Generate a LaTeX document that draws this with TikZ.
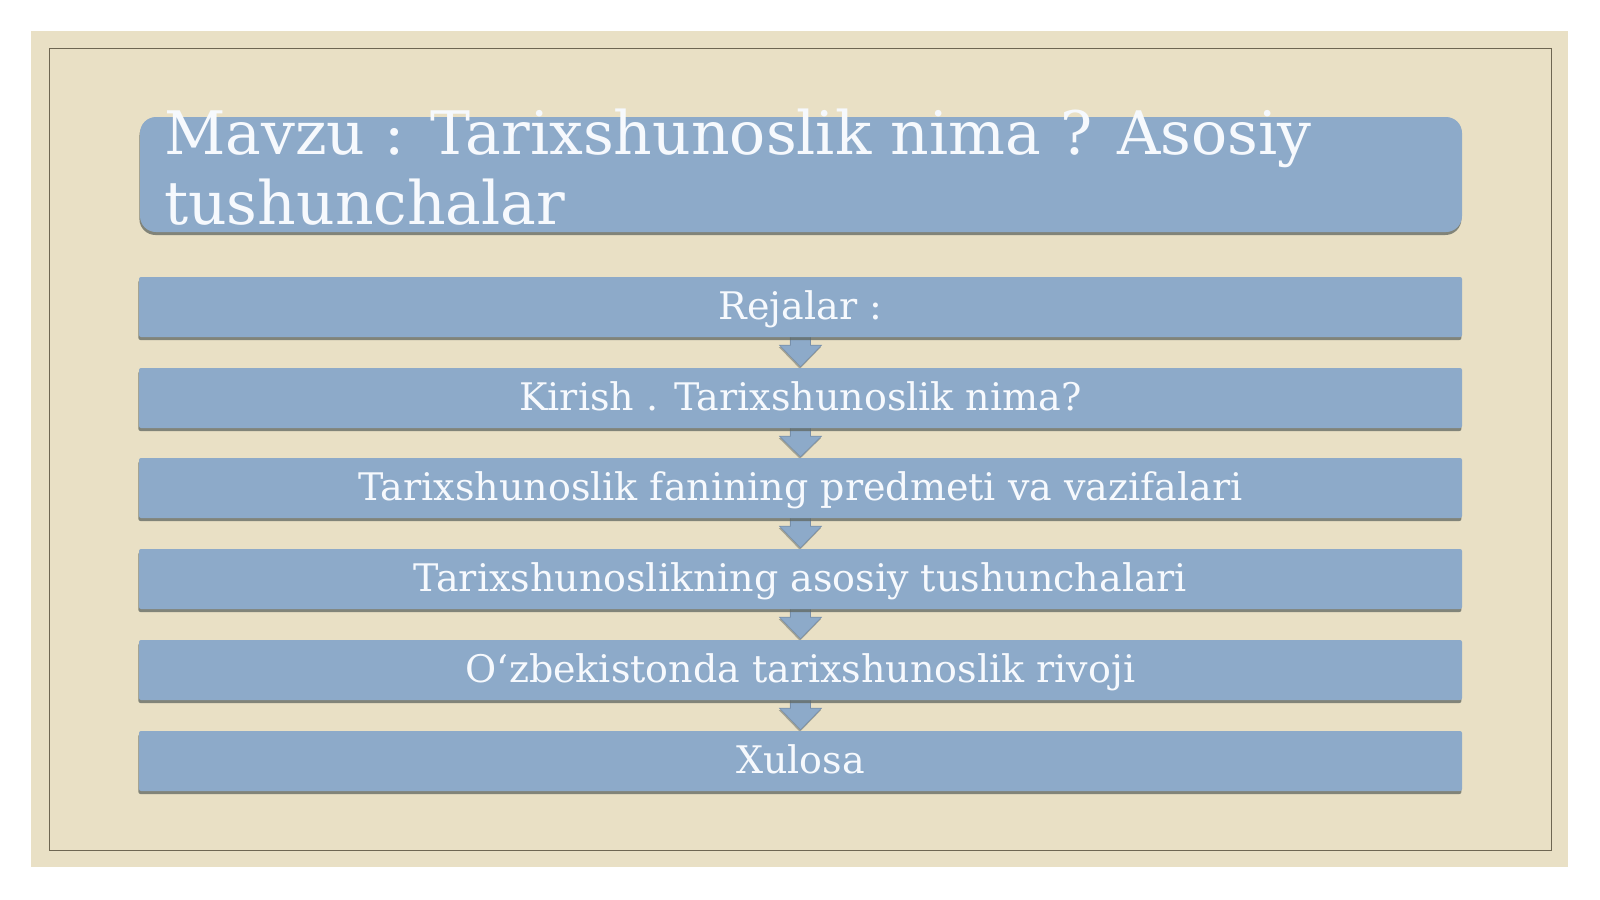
\documentclass[tikz,border=0pt]{standalone}
\usepackage{fontspec}
\setmainfont{DejaVu Serif}
\usetikzlibrary{shadows}
\pgfdeclarelayer{bg}
\pgfdeclarelayer{arr}
\pgfsetlayers{bg,arr,main}
\definecolor{pagebg}{HTML}{FFFFFF}
\definecolor{beige}{HTML}{E9E0C5}
\definecolor{framec}{HTML}{6E6652}
\definecolor{boxblue}{HTML}{8DAAC9}
\definecolor{txtc}{HTML}{F6F9FD}
\definecolor{shadowc}{HTML}{5F6660}
\tikzset{
  slidebox/.style={fill=boxblue, draw=none, rounded corners=2pt,
    minimum width=1323pt, minimum height=60pt, inner sep=0pt,
    text=txtc, font=\fontsize{38}{44}\selectfont,
    text height=28pt, text depth=4pt,
    drop shadow={shadow xshift=-0.6pt, shadow yshift=-3pt, fill=shadowc, opacity=0.75}},
  titlebox/.style={fill=boxblue, draw=none, rounded corners=16pt,
    minimum width=1322pt, minimum height=115pt, inner sep=0pt,
    drop shadow={shadow xshift=-0.6pt, shadow yshift=-3pt, fill=shadowc, opacity=0.75}},
  titletext/.style={text=txtc, font=\fontsize{60}{70}\selectfont, align=left, inner sep=0pt},
  blockarrow/.style={fill=boxblue, draw=boxblue!85!black, line width=0.6pt,
    drop shadow={shadow xshift=-0.6pt, shadow yshift=-2pt, fill=shadowc, opacity=0.5}}
}
\begin{document}
\begin{tikzpicture}[x=1pt,y=-1pt]
\useasboundingbox (0,0) rectangle (1600,899);
\begin{pgfonlayer}{bg}
  \fill[pagebg] (0,0) rectangle (1600,899);
  \fill[beige] (31,31) rectangle (1568,867);
  \draw[framec, line width=1pt] (49,49) rectangle (1551,850);
\end{pgfonlayer}
% title
\node[titlebox] (title) at (801,174.5) {};
\node[titletext, anchor=north west] (titletxt) at (164,109) {Mavzu : Tarixshunoslik nima ? Asosiy\\tushunchalar};
% plan boxes
\node[slidebox] (b1) at (800.5,307) {Rejalar :};
\node[slidebox] (b2) at (800.5,398) {Kirish . Tarixshunoslik nima?};
\node[slidebox] (b3) at (800.5,488) {Tarixshunoslik fanining predmeti va vazifalari};
\node[slidebox] (b4) at (800.5,579) {Tarixshunoslikning asosiy tushunchalari};
\node[slidebox] (b5) at (800.5,670) {O‘zbekistonda tarixshunoslik rivoji};
\node[slidebox] (b6) at (800.5,761) {Xulosa};
% arrows
\begin{pgfonlayer}{arr}
\foreach \a/\b in {b1/b2,b2/b3,b3/b4,b4/b5,b5/b6}{
  \path[blockarrow] ([xshift=-10pt,yshift=8pt]\a.south) -- ([xshift=-10pt,yshift=-8pt]\a.south)
    -- ([xshift=-21pt,yshift=-8pt]\a.south) -- ([yshift=1pt]\b.north)
    -- ([xshift=21pt,yshift=-8pt]\a.south) -- ([xshift=10pt,yshift=-8pt]\a.south)
    -- ([xshift=10pt,yshift=8pt]\a.south) -- cycle;
}
\end{pgfonlayer}
\end{tikzpicture}
\end{document}
